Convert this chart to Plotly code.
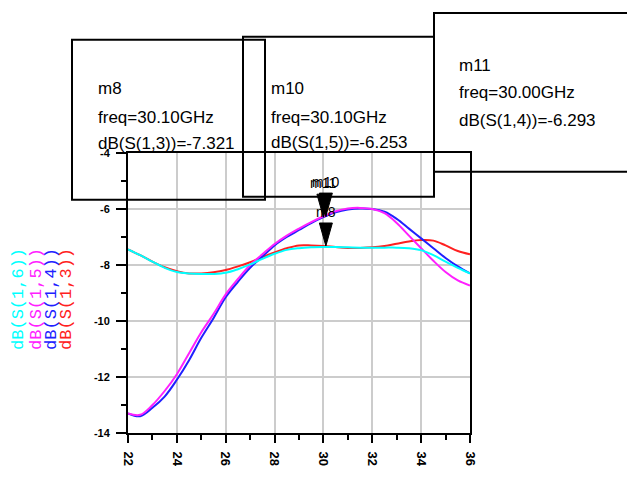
import plotly.graph_objects as go

# Frequency sweep (GHz) and S-parameter magnitudes (dB)
freq = [22, 22.5, 23, 23.5, 24, 24.5, 25, 25.5, 26, 26.5, 27, 27.5, 28, 28.5,
        29, 29.5, 30, 30.5, 31, 31.5, 32, 32.5, 33, 33.5, 34, 34.5, 35, 35.5, 36]

s13 = [-7.44, -7.65, -7.88, -8.08, -8.22, -8.30, -8.30, -8.26, -8.18, -8.05,
       -7.90, -7.72, -7.55, -7.40, -7.30, -7.30, -7.32, -7.36, -7.39, -7.39,
       -7.37, -7.32, -7.24, -7.16, -7.11, -7.13, -7.30, -7.50, -7.62]

s14 = [-13.30, -13.40, -13.10, -12.70, -12.10, -11.40, -10.60, -9.90, -9.15, -8.60,
       -8.10, -7.70, -7.30, -7.00, -6.75, -6.50, -6.29, -6.12, -6.02, -5.98,
       -6.00, -6.10, -6.35, -6.70, -7.05, -7.40, -7.75, -8.05, -8.30]

s15 = [-13.30, -13.35, -13.00, -12.50, -11.90, -11.15, -10.40, -9.75, -9.05, -8.50,
       -8.00, -7.62, -7.25, -6.95, -6.70, -6.47, -6.26, -6.08, -5.98, -5.96,
       -6.00, -6.15, -6.50, -6.95, -7.40, -7.85, -8.25, -8.55, -8.73]

s16 = [-7.44, -7.65, -7.88, -8.10, -8.25, -8.30, -8.32, -8.32, -8.28, -8.15,
       -7.98, -7.78, -7.60, -7.46, -7.40, -7.37, -7.36, -7.36, -7.37, -7.38,
       -7.38, -7.38, -7.38, -7.40, -7.47, -7.65, -7.88, -8.10, -8.30]

# Markers
marker_names = ["m8", "m10", "m11"]
marker_freq = [30.10, 30.10, 30.00]
marker_trace = ["dB(S(1,3))", "dB(S(1,5))", "dB(S(1,4))"]
marker_value = [-7.321, -6.253, -6.293]

x_ticks = [22, 24, 26, 28, 30, 32, 34, 36]
y_ticks = [-14, -12, -10, -8, -6, -4]

series = [
    ("dB(S(1,3))", s13, "#ff2020"),
    ("dB(S(1,4))", s14, "#2020ff"),
    ("dB(S(1,5))", s15, "#ff20ff"),
    ("dB(S(1,6))", s16, "#00ffff"),
]

W, H = 627, 479
L, R, T, B = 128, 470, 153, 435
pw, ph = R - L, B - T


def px(xp):
    return (xp - L) / pw


def py(yp):
    return (B - yp) / ph


TEXT_FONT = "Liberation Sans, Arial, sans-serif"

fig = go.Figure()
for name, vals, col in series:
    fig.add_trace(go.Scatter(x=freq, y=vals, mode="lines", name=name,
                             line=dict(color=col, width=2, shape="spline"),
                             showlegend=False))

shapes = []
annotations = []

# Marker readout boxes (transparent, outlined)
boxes = [(72, 39, 265, 200), (243, 36, 434, 197), (434, 12, 640, 172)]
text_pos = [(96, [88, 117, 143]), (269, [88, 117, 142]), (457, [65, 92, 120])]
for (x0, y0, x1, y1) in boxes:
    shapes.append(dict(type="rect", xref="paper", yref="paper",
                       x0=px(x0), x1=px(x1), y0=py(y1), y1=py(y0),
                       line=dict(color="black", width=2), fillcolor="rgba(0,0,0,0)",
                       layer="above"))
for i, (tx, tys) in enumerate(text_pos):
    lines = [marker_names[i],
             "freq=%.2fGHz" % marker_freq[i],
             "%s=%.3f" % (marker_trace[i], marker_value[i])]
    for txt, ty in zip(lines, tys):
        annotations.append(dict(xref="paper", yref="paper", x=px(tx), y=py(ty),
                                xanchor="left", yanchor="middle", text=txt,
                                showarrow=False,
                                font=dict(family=TEXT_FONT, size=17, color="black")))

# Marker triangles on the traces, labels above them
for i in range(len(marker_names)):
    shapes.append(dict(type="path", xref="x", yref="y",
                       xsizemode="pixel", ysizemode="pixel",
                       xanchor=marker_freq[i], yanchor=marker_value[i],
                       path="M -6.5 23 L 6.5 23 L 0 0 Z",
                       fillcolor="black", line=dict(color="black", width=1),
                       layer="above"))
    annotations.append(dict(x=marker_freq[i], y=marker_value[i], xref="x", yref="y",
                            text=marker_names[i], showarrow=False,
                            yanchor="bottom", yshift=24,
                            font=dict(family=TEXT_FONT, size=14, color="black")))

# Trace names stacked vertically at the left
legend_x = [19, 37, 52, 67]
legend_items = [series[3], series[2], series[1], series[0]]
for (name, _, col), lx in zip(legend_items, legend_x):
    annotations.append(dict(xref="paper", yref="paper", x=px(lx), y=py(300),
                            text=name, textangle=-90, showarrow=False,
                            xanchor="center", yanchor="middle",
                            font=dict(family="Liberation Mono, DejaVu Sans Mono, monospace",
                                      size=17, color=col)))

fig.update_layout(
    width=W, height=H,
    margin=dict(l=L, r=W - R, t=T, b=H - B, pad=0),
    paper_bgcolor="white", plot_bgcolor="white",
    shapes=shapes, annotations=annotations,
    showlegend=False,
)
fig.update_xaxes(range=[22, 36], tickvals=x_ticks, ticktext=[str(v) for v in x_ticks],
                 tickangle=90, ticks="outside", ticklen=8, tickwidth=2, tickcolor="black",
                 ticklabelstandoff=6,
                 tickfont=dict(family="Liberation Sans, Arial", size=13, color="black",
                               weight="bold"),
                 showgrid=True, gridcolor="#cccccc", gridwidth=1.5,
                 showline=True, linecolor="black", linewidth=2, mirror=True,
                 minor=dict(dtick=1, tick0=23, ticks="outside", ticklen=5,
                            tickwidth=2, tickcolor="black", showgrid=False),
                 zeroline=False)
fig.update_yaxes(range=[-14, -4], tickvals=y_ticks, ticktext=[str(v) for v in y_ticks],
                 ticks="outside", ticklen=10, tickwidth=2, tickcolor="black",
                 ticklabelstandoff=4,
                 tickfont=dict(family="Liberation Sans, Arial", size=11, color="black",
                               weight="bold"),
                 showgrid=True, gridcolor="#cccccc", gridwidth=1.5,
                 showline=True, linecolor="black", linewidth=2, mirror=True,
                 minor=dict(dtick=1, tick0=-13, ticks="outside", ticklen=5,
                            tickwidth=2, tickcolor="black", showgrid=False),
                 zeroline=False)

fig.write_html("out.html")
